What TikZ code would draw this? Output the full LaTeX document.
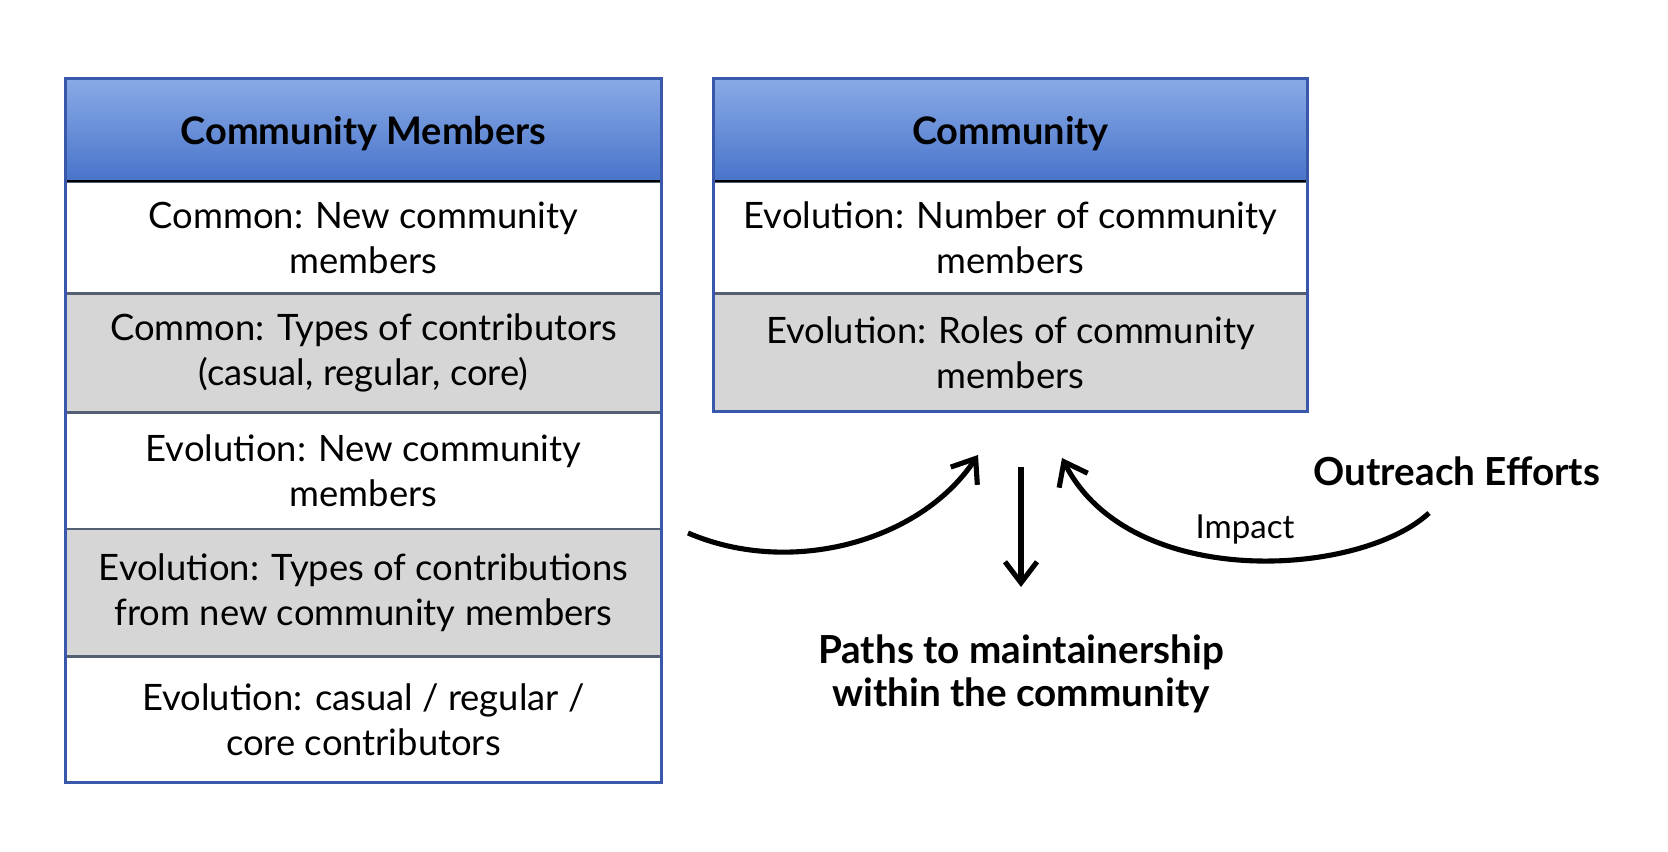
\documentclass[tikz,border=0pt]{standalone}
\usepackage{fontspec}
\setmainfont{Lato}
\usetikzlibrary{arrows.meta,positioning}
\definecolor{hdrtop}{RGB}{137,170,230}
\definecolor{hdrbot}{RGB}{72,116,202}
\definecolor{tblblue}{RGB}{58,88,170}
\definecolor{rowgray}{RGB}{214,214,214}
\definecolor{rowline}{RGB}{85,95,115}

\begin{document}
\begin{tikzpicture}[
  font=\fontsize{10.35}{12.8}\selectfont,
  hdr/.style={draw=black,thin,top color=hdrtop,bottom color=hdrbot,minimum width=5.95cm,minimum height=1.02cm,inner sep=0pt,text height=0.36cm,text depth=0.07cm,font=\fontsize{10.8}{13}\selectfont\bfseries},
  whiterow/.style={draw=rowline,thin,fill=white,minimum width=5.95cm,align=center,inner sep=0pt,execute at begin node={\rule{0pt}{9.5pt}}},
  grayrow/.style={whiterow,fill=rowgray},
  tblframe/.style={draw=tblblue,line width=0.8pt},
  arr/.style={-{Straight Barb[length=2.1mm,width=3.2mm]},line width=1.45pt,black},
  big/.style={font=\fontsize{11}{12.1}\selectfont\bfseries,align=center},
  lbl/.style={font=\fontsize{9.4}{11}\selectfont},
  ]
  \useasboundingbox (0,0) rectangle (16.68,8.52);
  % left table
  \node[hdr] (cmh) at (3.635,7.22) {Community Members};
  \node[whiterow,minimum height=1.10cm,below=0pt of cmh] (cm1) {Common: New community\\members};
  \node[grayrow,minimum height=1.18cm,below=0pt of cm1] (cm2) {Common: Types of contributors\\(casual, regular, core)};
  \node[whiterow,minimum height=1.15cm,below=0pt of cm2] (cm3) {Evolution: New community\\members};
  \node[grayrow,minimum height=1.26cm,below=0pt of cm3] (cm4) {Evolution: Types of contributions\\from new community members};
  \node[whiterow,minimum height=1.25cm,below=0pt of cm4] (cm5) {Evolution: casual / regular /\\core contributors};
  \draw[tblframe] (cmh.north west) rectangle (cm5.south east);
  % right table
  \node[hdr,minimum width=5.93cm] (ch) at (10.105,7.22) {Community};
  \node[whiterow,minimum width=5.93cm,minimum height=1.10cm,below=0pt of ch] (c1) {Evolution: Number of community\\members};
  \node[grayrow,minimum width=5.93cm,minimum height=1.17cm,below=0pt of c1] (c2) {Evolution: Roles of community\\members};
  \draw[tblframe] (ch.north west) rectangle (c2.south east);
  % outcomes
  \node[big] (paths) at (10.21,1.78) {Paths to maintainership\\within the community};
  \node[big] (outr) at (14.57,3.81) {Outreach Efforts};
  \coordinate (lfrom) at (6.88,3.19);
  \coordinate (lto) at (9.78,3.97);
  \coordinate (dfrom) at (10.21,3.85);
  \coordinate (dto) at (10.21,2.65);
  \coordinate (ofrom) at (14.29,3.39);
  \coordinate (oto) at (10.62,3.94);
  \draw[arr] (lfrom) .. controls (7.9,2.75) and (9.2,3.1) .. (lto);
  \draw[arr] (dfrom) -- (dto);
  \draw[arr] (ofrom) .. controls (13.6,2.75) and (11.3,2.6) .. (oto);
  \node[lbl] (imp) at (12.45,3.22) {Impact};
\end{tikzpicture}
\end{document}
